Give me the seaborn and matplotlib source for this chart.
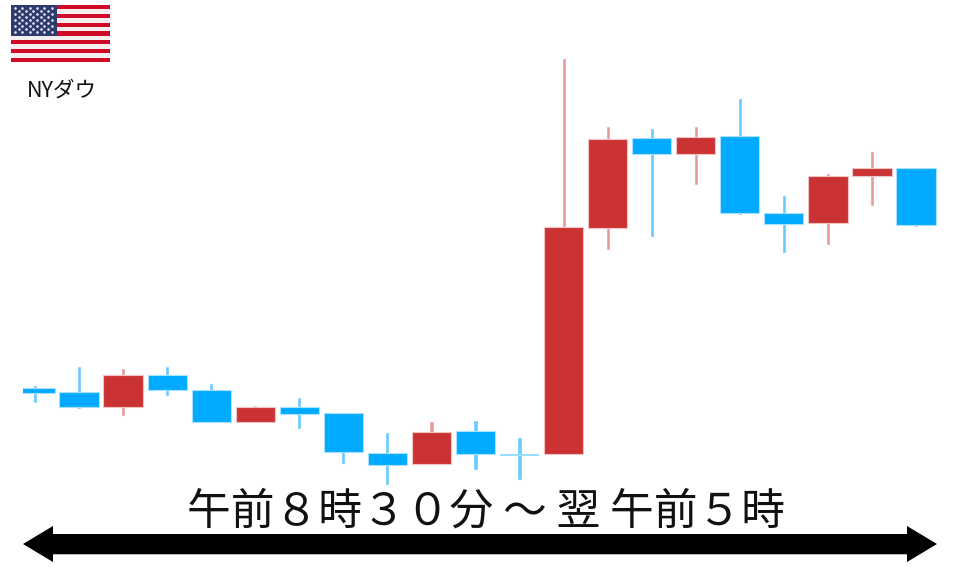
import numpy as np
import pandas as pd
import seaborn as sns
import matplotlib.pyplot as plt
from matplotlib.patches import Polygon, Rectangle

# candle values (plot units, y grows downward)
candle = list(range(21))
body_top = [388.5, 392, 375, 375, 390, 407, 407, 413, 453, 432, 431, 454.5, 227, 139, 138, 137, 136, 213, 176, 168, 168]
body_bottom = [393.5, 407, 407, 390, 422, 422, 414, 452, 465, 464, 454, 456, 454, 228, 154, 154, 213, 224, 223, 176, 225]
wick_top = [385, 366, 368, 366, 383, 405, 397, 413, 432, 421, 420, 437, 58.5, 126, 128, 126, 98, 195, 173, 151, 167]
wick_bottom = [403, 409, 416, 396, 423, 423, 429, 464, 485, 464, 470, 480, 455, 250, 237, 185, 215, 253, 245, 206, 227]
rising = [0, 0, 1, 0, 0, 1, 0, 0, 0, 1, 0, 0, 1, 1, 0, 1, 0, 0, 1, 1, 0]

label_index = "NYダウ"
label_time = "午前８時３０分 ～ 翌 午前５時"

RED = "#cb3234"
BLUE = "#00aaff"
RED_WICK = "#e89a9a"
BLUE_WICK = "#66ccff"

sns.set_theme(style="white")
plt.rcParams['font.family'] = ['Noto Sans CJK JP', 'DejaVu Sans']

df = pd.DataFrame({
    "candle": candle,
    "top": body_top,
    "bottom": body_bottom,
    "high": wick_top,
    "low": wick_bottom,
    "rising": rising,
})
df["body"] = df["bottom"] - df["top"]
df["wick"] = df["low"] - df["high"]

fig = plt.figure(figsize=(9.6, 5.67), dpi=100)
# axes start at x=23 px, the picture cuts the first candle there
ax = fig.add_axes([23 / 960, 0, 937 / 960, 1])

# wicks first, then bodies over them
for flag, c_wick, c_body, c_edge in [(1, RED_WICK, RED, "#eec4c4"), (0, BLUE_WICK, BLUE, "#a8e0ff")]:
    sub = df[df["rising"] == flag]
    sns.barplot(data=sub, x="candle", y="wick", order=candle, bottom=sub["high"].values,
                color=c_wick, saturation=1, width=0.095, errorbar=None, ax=ax, zorder=2)
    sns.barplot(data=sub, x="candle", y="body", order=candle, bottom=sub["top"].values,
                color=c_body, saturation=1, width=0.89, errorbar=None, ax=ax, zorder=3,
                edgecolor=c_edge, linewidth=0.8)

# the cross candle has only a hairline for its body
for p in ax.patches:
    if p.get_height() <= 1.5:
        p.set_facecolor("#99ddff")
        p.set_edgecolor("none")

# one candle step is 44.05 px, first candle centred at x=35
ax.set_xlim(-12 / 44.05, (960 - 35) / 44.05)
ax.set_ylim(567.5, 0.5)
ax.axis("off")

# flag, drawn in pixel space
tr = fig.transFigure
def px(x, y):
    return x / 960, 1 - y / 567

def rect(x0, y0, x1, y1, color):
    xa, ya = px(x0, y1)
    fig.add_artist(Rectangle((xa, ya), (x1 - x0) / 960, (y1 - y0) / 567, transform=tr,
                             facecolor=color, edgecolor="none", zorder=5))

flag_h = 57 / 13
rect(11, 5, 110, 62, "#f4eeee")
for i in range(0, 13, 2):
    rect(11, 5 + i * flag_h, 110, 5 + (i + 1) * flag_h, "#cf0a26")
rect(11, 5, 57, 5 + 7 * flag_h, "#2c3a6e")
sx, sy = [], []
for row in range(9):
    n = 6 if row % 2 == 0 else 5
    off = 0 if row % 2 == 0 else 3.6
    for k in range(n):
        sx.append(15 + off + k * 7.3)
        sy.append(8 + row * 3.0)
fx, fy = px(np.array(sx), np.array(sy))
ax_flag = fig.add_axes([0, 0, 1, 1], facecolor="none", zorder=6)
ax_flag.scatter(fx, fy, s=3.5, color="#e8e8f2", linewidths=0)
ax_flag.set_xlim(0, 1)
ax_flag.set_ylim(0, 1)
ax_flag.axis("off")

fig.text(62 / 960, 1 - 91 / 567, label_index, ha="center", va="center", fontsize=15.5, color="#111111")
fig.text(486.5 / 960, 1 - 512 / 567, label_time, ha="center", va="center", fontsize=31.5, color="#111111")

# double headed arrow
arrow = [(23, 544), (53, 526), (53, 534), (907, 534), (907, 526), (937, 544),
         (907, 562), (907, 554), (53, 554), (53, 562)]
fig.add_artist(Polygon([px(x, y) for x, y in arrow], closed=True, transform=tr,
                       facecolor="black", edgecolor="none", zorder=5))
rect(53, 554, 907, 555, "#b5b5b5")

fig.savefig("out.png", dpi=100, facecolor="white")
